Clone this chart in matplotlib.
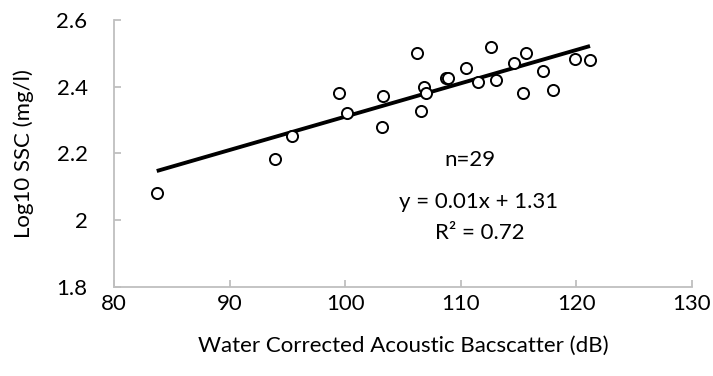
import matplotlib
matplotlib.use("Agg")
import matplotlib.pyplot as plt
import numpy as np

# Backscatter (dB) vs log10 suspended sediment concentration
backscatter_db = [83.7, 93.9, 95.4, 99.5, 100.2, 103.3, 103.2, 106.2, 106.8, 107.0,
                  106.6, 108.7, 108.9, 110.5, 111.5, 112.6, 113.1, 114.6, 115.7, 115.4,
                  117.1, 118.0, 119.9, 121.2]
log_ssc = [2.080, 2.183, 2.253, 2.382, 2.320, 2.372, 2.278, 2.500, 2.400, 2.380,
           2.327, 2.425, 2.425, 2.455, 2.413, 2.518, 2.420, 2.470, 2.502, 2.380,
           2.447, 2.390, 2.483, 2.480]

slope = 0.01
intercept = 1.31
n_samples = 29
r_squared = 0.72

x_ticks = [80, 90, 100, 110, 120, 130]
y_ticks = [1.8, 2.0, 2.2, 2.4, 2.6]
y_tick_labels = ["1.8", "2", "2.2", "2.4", "2.6"]

plt.rcParams['font.family'] = ['Lato', 'DejaVu Sans']

W, H = 713, 376
fig = plt.figure(figsize=(W / 100, H / 100), dpi=100)
left, right, top, bottom = 114, 691.7, 20, 286.7
ax = fig.add_axes([left / W, 1 - bottom / H, (right - left) / W, (bottom - top) / H])

ax.plot(backscatter_db, log_ssc, linestyle='none', marker='o', markersize=8,
        markerfacecolor='white', markeredgecolor='black', markeredgewidth=1.4,
        zorder=3)

xfit = np.array([min(backscatter_db), max(backscatter_db)])
ax.plot(xfit, slope * xfit + intercept, color='black', linewidth=2.8,
        solid_capstyle='butt', zorder=2)

ax.set_xlim(80, 130)
ax.set_ylim(1.8, 2.6)
ax.set_xticks(x_ticks)
ax.set_yticks(y_ticks)
ax.set_yticklabels(y_tick_labels)

for s in ['top', 'right']:
    ax.spines[s].set_visible(False)
for s in ['left', 'bottom']:
    ax.spines[s].set_color('#bfbfbf')
    ax.spines[s].set_linewidth(1.3)
ax.tick_params(axis='both', direction='in', length=5, width=1.3, color='#bfbfbf',
               labelsize=16, labelcolor='black')
ax.tick_params(axis='x', pad=5)
ax.tick_params(axis='y', pad=19)

ax.set_xlabel("Water Corrected Acoustic Bacscatter (dB)", fontsize=16, labelpad=16)
ax.set_ylabel("Log10 SSC (mg/l)", fontsize=16, labelpad=16)

ax.annotate(f"n={n_samples}", xy=(470 / W, 1 - 160 / H), xycoords='figure fraction',
            ha='center', va='center', fontsize=16)
ax.annotate(f"y = {slope:.2f}x + {intercept:.2f}", xy=(478.3 / W, 1 - 201.7 / H),
            xycoords='figure fraction', ha='center', va='center', fontsize=16)
ax.annotate(f"R² = {r_squared:.2f}", xy=(480 / W, 1 - 233.3 / H),
            xycoords='figure fraction', ha='center', va='center', fontsize=16)

fig.savefig("out.png", dpi=100)
